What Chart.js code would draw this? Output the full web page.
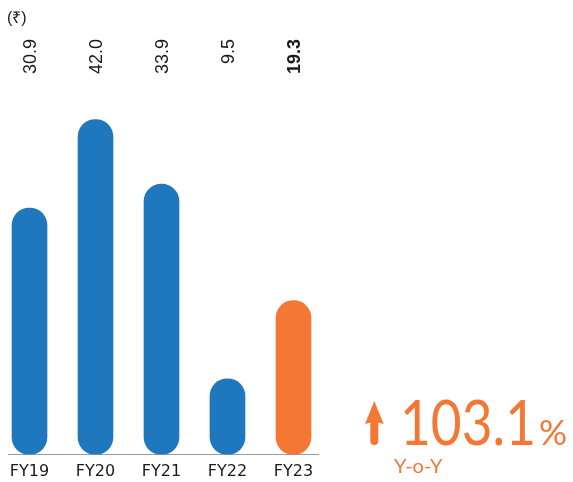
<!DOCTYPE html>
<html>
<head>
<meta charset="utf-8">
<script src="https://cdn.jsdelivr.net/npm/chart.js@4.4.1/dist/chart.umd.min.js"></script>
<style>
html,body{margin:0;padding:0;background:#fff;}
#wrap{position:relative;width:573px;height:482px;}
</style>
</head>
<body>
<div id="wrap"><canvas id="c" width="573" height="482"></canvas></div>
<script>
const categories = ['FY19', 'FY20', 'FY21', 'FY22', 'FY23'];
const values = [30.9, 42.0, 33.9, 9.5, 19.3];
const barColors = ['#1F77BD', '#1F77BD', '#1F77BD', '#1F77BD', '#F47834'];
const unitLabel = '(₹)';
const growthValue = '103.1';
const growthUnit = '%';
const growthLabel = 'Y-o-Y';

const ORANGE = '#F47834';
const TEXT = '#1a1a1a';

const annotations = {
  id: 'annotations',
  afterDraw(chart) {
    const ctx = chart.ctx;
    const xs = chart.scales.x;
    ctx.save();
    // unit label
    ctx.fillStyle = TEXT;
    ctx.font = '16px "Liberation Sans", Arial, sans-serif';
    ctx.textAlign = 'left';
    ctx.textBaseline = 'alphabetic';
    ctx.fillText(unitLabel, 7, 23);
    // rotated value labels
    values.forEach((v, i) => {
      const x = xs.getPixelForValue(i);
      ctx.save();
      ctx.translate(x, 39);
      ctx.rotate(-Math.PI / 2);
      ctx.font = (i === values.length - 1 ? 'bold ' : '') + '18px "Liberation Sans", Arial, sans-serif';
      ctx.textAlign = 'right';
      ctx.textBaseline = 'alphabetic';
      ctx.fillStyle = TEXT;
      ctx.fillText(v.toFixed(1), 0, 6.5);
      ctx.restore();
    });
    // growth arrow
    ctx.fillStyle = ORANGE;
    ctx.beginPath();
    ctx.moveTo(374.3, 401);
    ctx.lineTo(383.7, 424);
    ctx.lineTo(374.3, 421.5);
    ctx.lineTo(365, 424);
    ctx.closePath();
    ctx.fill();
    ctx.strokeStyle = ORANGE;
    ctx.lineWidth = 8;
    ctx.lineCap = 'round';
    ctx.beginPath();
    ctx.moveTo(374.3, 418);
    ctx.lineTo(374.3, 441);
    ctx.stroke();
    // growth value
    ctx.font = '61px Lato, sans-serif';
    ctx.textAlign = 'left';
    ctx.textBaseline = 'alphabetic';
    const w = ctx.measureText(growthValue).width;
    ctx.save();
    ctx.translate(400, 445);
    ctx.scale(136 / w, 1);
    ctx.fillText(growthValue, 0, 0);
    ctx.restore();
    ctx.font = '35px Lato, sans-serif';
    ctx.fillText(growthUnit, 539, 445);
    ctx.font = '20px Lato, sans-serif';
    ctx.fillText(growthLabel, 394, 473);
    ctx.restore();
  }
};

new Chart(document.getElementById('c'), {
  type: 'bar',
  data: {
    datasets: [{
      data: values.map((v, i) => ({ x: i, y: v })),
      backgroundColor: barColors,
      borderRadius: 17.5,
      borderSkipped: false,
      barThickness: 35
    }]
  },
  options: {
    responsive: false,
    animation: false,
    devicePixelRatio: 1,
    layout: { padding: { left: 8, right: 255, top: 103.6, bottom: -6.7 } },
    plugins: { legend: { display: false }, tooltip: { enabled: false } },
    scales: {
      x: {
        type: 'linear',
        offset: false,
        min: -0.3258,
        max: 4.3712,
        afterBuildTicks(scale) { scale.ticks = categories.map((c, i) => ({ value: i })); },
        grid: { display: false, drawTicks: false, offset: false },
        border: { display: true, color: '#9a9a9a', width: 1 },
        ticks: {
          padding: 7.5,
          color: TEXT,
          font: { family: '"DejaVu Sans", sans-serif', size: 16 },
          maxRotation: 0,
          autoSkip: false,
          callback: (v) => categories[v]
        }
      },
      y: {
        display: false,
        min: 0,
        max: 44
      }
    }
  },
  plugins: [annotations]
});
</script>
</body>
</html>
